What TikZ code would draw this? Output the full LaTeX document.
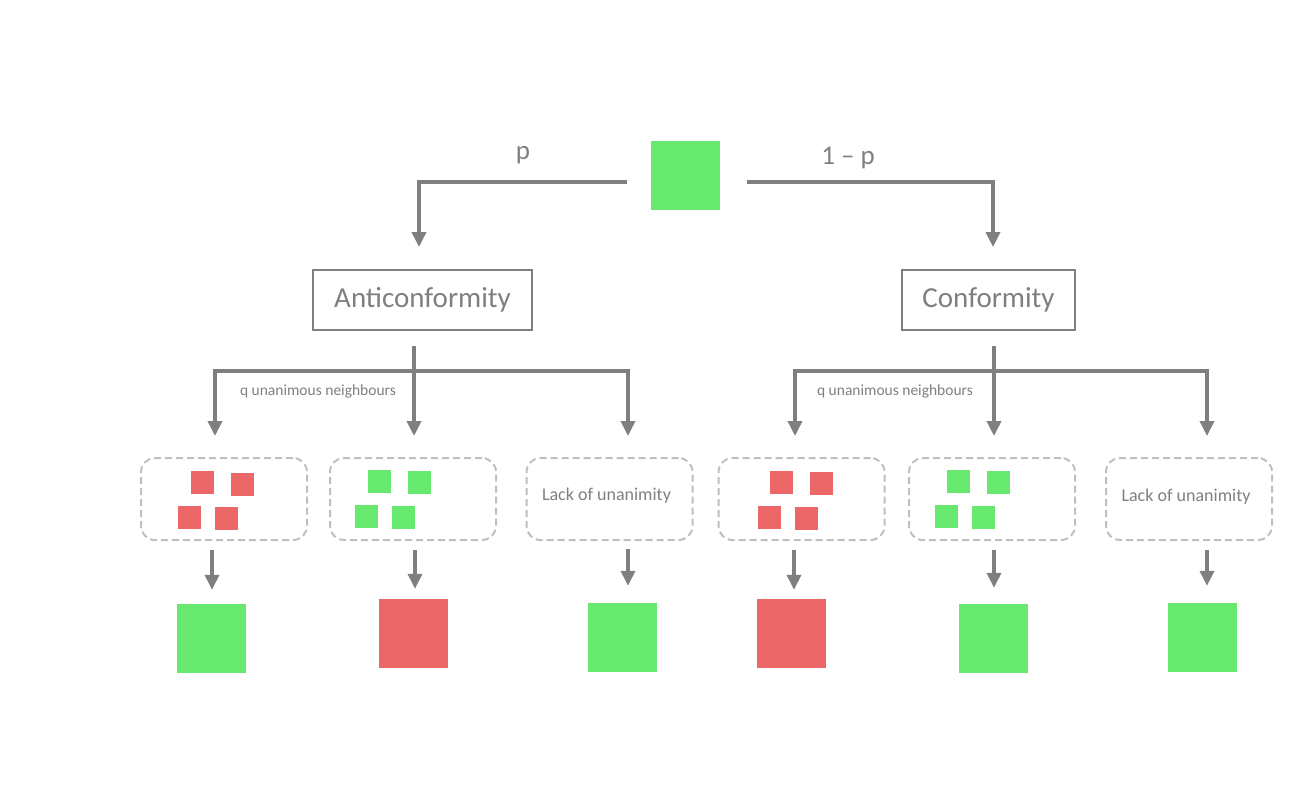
\documentclass[tikz,border=0pt]{standalone}
\usepackage{fontspec}
\setmainfont{Carlito}
\usetikzlibrary{arrows.meta,calc}
\definecolor{lgray}{HTML}{7F7F7F}
\definecolor{dgray}{HTML}{BFBFBF}
\definecolor{sgreen}{HTML}{67E86F}
\definecolor{sred}{HTML}{EC6767}
\begin{document}
\begin{tikzpicture}[x=1pt,y=-1pt,
  conn/.style={draw=lgray, line width=3.5pt},
  arr/.style={conn, -{Triangle[width=14pt,length=15pt]}},
  labelbox/.style={draw=lgray, line width=2pt, text=lgray, font=\fontsize{29}{34}\selectfont, minimum height=60pt, inner sep=0pt},
  dbox/.style={draw=dgray, line width=2pt, dash pattern=on 7pt off 4pt, rounded corners=14pt, minimum width=166pt, minimum height=82pt, inner sep=0pt},
  boxtext/.style={text=lgray, font=\fontsize{18}{22}\selectfont, inner sep=0pt},
  gsq/.style={fill=sgreen, minimum size=69pt, inner sep=0pt},
  rsq/.style={fill=sred, minimum size=69pt, inner sep=0pt},
  gs/.style={fill=sgreen, minimum size=23pt, inner sep=0pt},
  rs/.style={fill=sred, minimum size=23pt, inner sep=0pt},
  toplabel/.style={text=lgray, font=\fontsize{27}{32}\selectfont, inner sep=0pt},
  qlabel/.style={text=lgray, font=\fontsize{15.5}{18}\selectfont, inner sep=0pt}
]
\useasboundingbox (0,0) rectangle (1305,806);

% top
\node[gsq] (top) at (685.5,175.5) {};
\node[toplabel] (plab) at (523,155) {p};
\node[toplabel] (qplab) at (848,158) {1 – p};
\node[labelbox, minimum width=219pt] (anti) at (422.5,300) {Anticonformity};
\node[labelbox, minimum width=173pt] (conf) at (988.5,300) {Conformity};
\draw[arr] ($(top.west)+(-24,6.5)$) -| ($(anti.north)+(-3.5,-22)$);
\draw[arr] ($(top.east)+(27,6.5)$) -| ($(conf.north)+(4.5,-22)$);

% dashed boxes
\node[dbox] (b1) at (224,499) {};
\node[dbox] (b2) at (413,499) {};
\node[dbox] (b3) at (609.5,499) {};
\node[dbox] (b4) at (801.5,499) {};
\node[dbox] (b5) at (992,499) {};
\node[dbox] (b6) at (1189,499) {};
\node[boxtext] (t3) at ($(b3.center)+(-3,-3)$) {Lack of unanimity};
\node[boxtext] (t6) at ($(b6.center)+(-3,-2)$) {Lack of unanimity};

% small squares
\node[rs] (r11) at (202.5,482.5) {};
\node[rs] (r12) at (242.5,484.5) {};
\node[rs] (r13) at (189.5,517.5) {};
\node[rs] (r14) at (226.5,518.5) {};
\node[gs] (g21) at (379.5,481.5) {};
\node[gs] (g22) at (419.5,482.5) {};
\node[gs] (g23) at (366.5,516.5) {};
\node[gs] (g24) at (403.5,517.5) {};
\node[rs] (r41) at (781.5,482.5) {};
\node[rs] (r42) at (821.5,483.5) {};
\node[rs] (r43) at (769.5,517.5) {};
\node[rs] (r44) at (806.5,518.5) {};
\node[gs] (g51) at (958.5,481.5) {};
\node[gs] (g52) at (998.5,482.5) {};
\node[gs] (g53) at (946.5,516.5) {};
\node[gs] (g54) at (983.5,517.5) {};

% branch labels
\node[qlabel] (ql) at (318,391) {q unanimous neighbours};
\node[qlabel] (qr) at (895,391) {q unanimous neighbours};

% left branch
\coordinate (sL) at (414,346);
\coordinate (jL) at (414,371);
\draw[arr] (sL) -- ($(b2.north)+(1,-21)$);
\draw[arr] (jL) -| ($(b1.north)+(-9,-21)$);
\draw[arr] (jL) -| ($(b3.north)+(18.5,-21)$);

% right branch
\coordinate (sR) at (994,346);
\coordinate (jR) at (994,371);
\draw[arr] (sR) -- ($(b5.north)+(2,-21)$);
\draw[arr] (jR) -| ($(b4.north)+(-6.5,-21)$);
\draw[arr] (jR) -| ($(b6.north)+(18,-21)$);

% results
\node[gsq] (o1) at (211.5,638.5) {};
\node[rsq] (o2) at (413.5,633.5) {};
\node[gsq] (o3) at (622.5,637.5) {};
\node[rsq] (o4) at (791.5,633.5) {};
\node[gsq] (o5) at (993.5,638.5) {};
\node[gsq] (o6) at (1202.5,637.5) {};

\draw[arr] ($(o1.north |- b1.south)+(0.5,9)$) -- ($(o1.north)+(0.5,-14)$);
\draw[arr] ($(o2.north |- b2.south)+(1.5,9)$) -- ($(o2.north)+(1.5,-10)$);
\draw[arr] ($(o3.north |- b3.south)+(5.5,8)$) -- ($(o3.north)+(5.5,-17)$);
\draw[arr] ($(o4.north |- b4.south)+(2.5,9)$) -- ($(o4.north)+(2.5,-9)$);
\draw[arr] ($(o5.north |- b5.south)+(0.5,9)$) -- ($(o5.north)+(0.5,-16)$);
\draw[arr] ($(o6.north |- b6.south)+(4.5,9)$) -- ($(o6.north)+(4.5,-17)$);
\end{tikzpicture}
\end{document}
